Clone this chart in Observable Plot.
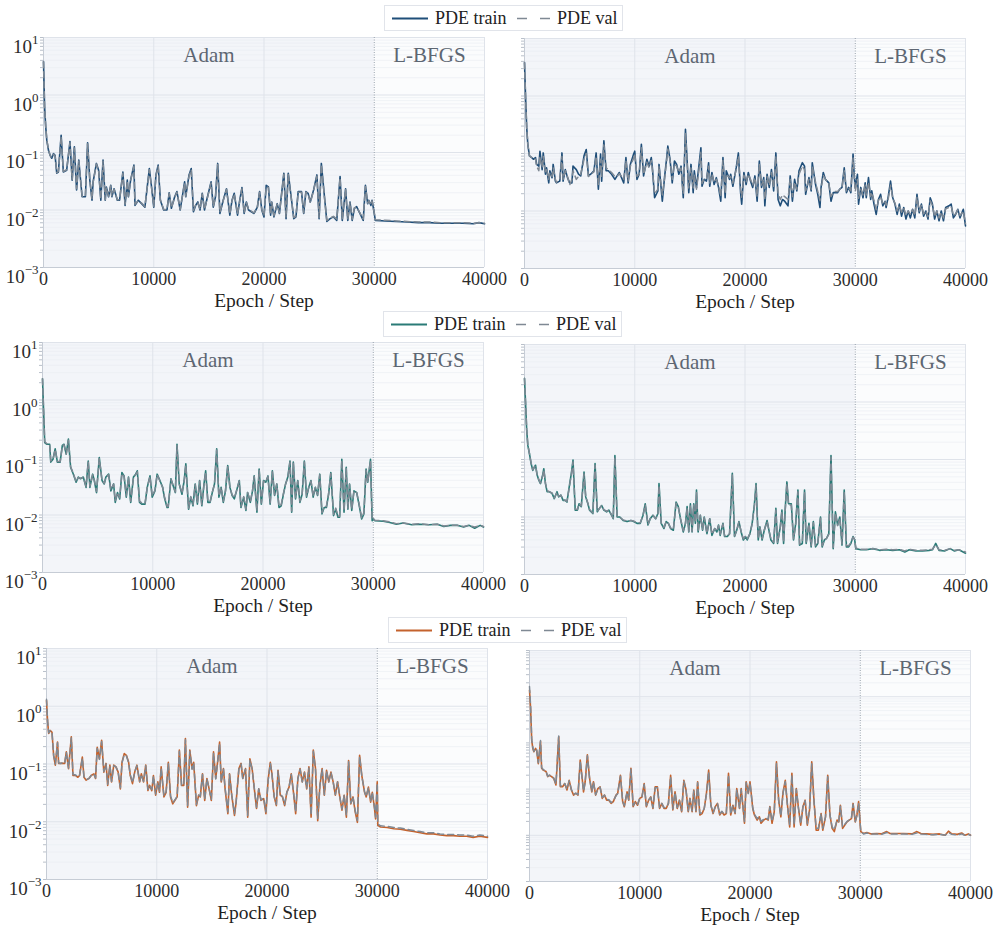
<!DOCTYPE html>
<html>
<head>
<meta charset="utf-8">
<script src="https://cdn.jsdelivr.net/npm/d3@7"></script>
<script src="https://cdn.jsdelivr.net/npm/@observablehq/plot@0.6"></script>
<style>
  html, body { margin: 0; padding: 0; background: #ffffff; }
  body { font-family: "Liberation Serif", "Times New Roman", serif; }
  #fig { position: relative; width: 999px; height: 929px; overflow: hidden; }
  .panel { position: absolute; }
  .legend {
    position: absolute; box-sizing: border-box; height: 26px; width: 239px;
    border: 1px solid #e1e4ea; background: #ffffff; z-index: 5;
    font-size: 18px; color: #222222;
  }
  .legend svg { position: absolute; top: 0; }
  .legend span { position: absolute; top: 0; line-height: 25px; white-space: nowrap; }
</style>
</head>
<body>
<div id="fig"></div>
<script>
// Training curves: PDE loss per epoch, Adam for the first 30000 steps, then L-BFGS.
// Loss values are stored as powers of ten (log10 of the loss).

const xTicks = [0, 10000, 20000, 30000, 40000];
const xLabel = "Epoch / Step";
const legendLabels = ["PDE train", "PDE val"];
const rowColors = ["#1f4e79", "#2a7b77", "#c4622d"];
const valColor = "#7f8994";
const phases = [
  { name: "Adam", start: 0, end: 30000 },
  { name: "L-BFGS", start: 30000, end: 40000 }
];

// Row 1, left
const epochs1 = [0,100,200,300,450,600,750,900,1050,1200,1350,1600,1800,2100,2400,2600,2800,3000,3200,3500,3800,4000,4200,4400,4500,4800,5000,5200,5400,5600,5700,5900,6100,6200,6400,6700,6900,7200,7400,7600,7700,7900,8200,8300,8600,8900,9200,9600,9800,10000,10200,10400,10600,10900,11200,11400,11600,11900,12100,12400,12800,12900,13200,13400,13600,13800,14000,14200,14400,14600,14800,15200,15400,15600,15800,16000,16300,16600,16900,17100,17300,17600,17800,18000,18200,18400,18600,19100,19400,19600,19800,20000,20200,20400,20600,20700,20900,21200,21400,21600,21800,22000,22200,22500,22700,22900,23100,23400,23600,23800,24000,24200,24500,24800,25000,25200,25500,25700,26000,26300,26600,26900,27100,27400,27600,27800,28000,28200,28400,28700,29000,29200,29400,29500,29700,29800,30000,30100,31000,32000,33000,34000,35000,36000,37000,38000,39000,39500,40000];
const train1 = [0.58,-0.21,-0.55,-0.79,-0.96,-1.05,-1.10,-1.02,-1.05,-1.36,-1.34,-0.70,-1.34,-1.31,-0.81,-1.48,-0.90,-1.65,-1.13,-1.77,-1.77,-0.83,-1.48,-1.83,-1.51,-1.19,-1.31,-1.83,-1.13,-1.83,-1.60,-1.77,-1.57,-1.77,-1.63,-1.83,-1.83,-1.34,-1.92,-1.48,-1.77,-1.48,-1.22,-1.92,-1.83,-1.89,-1.95,-1.28,-1.60,-1.95,-1.39,-1.22,-1.83,-2.00,-2.00,-1.70,-1.97,-1.77,-1.68,-2.00,-1.51,-1.77,-1.39,-1.28,-2.03,-1.92,-1.86,-2.00,-1.71,-2.00,-1.83,-1.51,-1.95,-1.77,-1.19,-2.06,-1.83,-1.63,-2.09,-1.83,-1.71,-2.09,-1.83,-1.61,-2.06,-1.86,-2.00,-2.06,-1.95,-1.68,-2.00,-2.12,-1.57,-1.60,-2.09,-1.86,-2.12,-1.89,-2.06,-1.71,-1.36,-2.15,-1.36,-1.83,-2.15,-2.12,-1.68,-1.68,-2.06,-1.68,-1.71,-1.86,-1.65,-1.39,-2.15,-1.19,-1.80,-2.20,-2.15,-2.12,-2.18,-1.42,-2.18,-1.63,-2.18,-1.86,-2.18,-1.97,-1.94,-2.06,-2.18,-1.57,-1.89,-1.83,-1.92,-1.83,-2.06,-2.18,-2.19,-2.20,-2.21,-2.22,-2.22,-2.23,-2.23,-2.23,-2.24,-2.22,-2.24];
const val1 = [0.58,-0.20,-0.53,-0.78,-0.95,-1.05,-1.09,-1.03,-1.06,-1.35,-1.33,-0.72,-1.33,-1.30,-0.83,-1.47,-0.92,-1.63,-1.15,-1.76,-1.76,-0.85,-1.47,-1.81,-1.52,-1.20,-1.32,-1.81,-1.15,-1.82,-1.61,-1.76,-1.58,-1.76,-1.64,-1.82,-1.82,-1.36,-1.90,-1.49,-1.76,-1.49,-1.24,-1.90,-1.84,-1.88,-1.94,-1.30,-1.61,-1.94,-1.40,-1.24,-1.82,-1.99,-1.99,-1.71,-1.96,-1.78,-1.69,-1.99,-1.53,-1.76,-1.41,-1.30,-2.01,-1.91,-1.87,-1.99,-1.72,-1.99,-1.84,-1.53,-1.94,-1.78,-1.21,-2.04,-1.84,-1.64,-2.07,-1.84,-1.72,-2.07,-1.84,-1.63,-2.05,-1.87,-1.99,-2.05,-1.94,-1.69,-1.99,-2.10,-1.59,-1.61,-2.08,-1.87,-2.10,-1.90,-2.05,-1.72,-1.38,-2.13,-1.38,-1.84,-2.13,-2.11,-1.69,-1.69,-2.05,-1.69,-1.72,-1.87,-1.66,-1.41,-2.13,-1.21,-1.81,-2.18,-2.14,-2.11,-2.16,-1.44,-2.16,-1.64,-2.16,-1.87,-2.16,-1.96,-1.95,-2.05,-2.16,-1.59,-1.88,-1.84,-1.91,-1.84,-2.05,-2.17,-2.18,-2.19,-2.20,-2.21,-2.21,-2.22,-2.22,-2.22,-2.23,-2.22,-2.23];

// Row 1, right
const epochs2 = [0,100,200,300,450,650,800,1000,1100,1300,1400,1600,1700,1900,2000,2200,2300,2500,2600,2800,2900,3200,3400,3500,3700,3900,4100,4300,4400,4700,4900,5100,5400,5600,5800,6000,6300,6500,6700,6900,7000,7200,7400,7600,7900,8200,8400,8600,8800,9000,9200,9400,9600,9900,10000,10200,10400,10600,10800,11100,11300,11500,11600,11800,12100,12200,12500,12700,12900,13000,13200,13400,13600,13800,14000,14200,14400,14600,14800,14900,15100,15300,15400,15600,15800,16000,16100,16300,16500,16700,16800,17000,17200,17400,17600,17800,18000,18200,18300,18600,18700,18900,19200,19400,19600,19700,19900,20100,20300,20500,20700,20900,21100,21300,21500,21700,21800,22000,22200,22400,22600,22800,23000,23200,23400,23600,23900,24100,24300,24500,24700,24900,25200,25400,25500,25800,26000,26100,26400,26600,26800,26900,27100,27300,27600,27800,28000,28200,28400,28600,28800,29000,29200,29400,29600,29800,29900,30000,30200,30300,30500,30700,30900,31000,31200,31400,31500,31700,31900,32100,32300,32500,32700,32800,33000,33200,33400,33600,33800,34000,34200,34400,34600,34800,35000,35200,35400,35600,35800,36000,36200,36400,36600,36800,37000,37200,37400,37600,37800,38000,38200,38500,38700,38900,39100,39300,39500,39800,40000];
const train2 = [0.58,-0.03,-0.55,-0.84,-1.04,-1.07,-1.10,-1.07,-1.19,-1.22,-0.96,-1.28,-0.99,-1.36,-1.25,-1.51,-1.30,-1.42,-1.19,-1.48,-1.51,-1.48,-0.99,-1.48,-1.28,-1.42,-1.51,-1.51,-1.22,-1.28,-1.36,-1.39,-1.04,-0.93,-1.39,-1.36,-1.30,-0.99,-1.62,-1.01,-1.48,-0.78,-1.30,-1.30,-1.36,-1.45,-1.39,-1.33,-1.42,-1.51,-1.07,-1.51,-1.19,-1.01,-0.96,-1.45,-1.36,-0.84,-1.39,-1.10,-1.22,-1.07,-1.25,-1.77,-1.65,-1.19,-1.83,-1.42,-1.07,-0.87,-1.10,-1.51,-1.13,-1.19,-1.36,-1.22,-1.77,-0.58,-1.30,-1.68,-1.19,-1.68,-1.30,-1.59,-1.25,-0.90,-1.57,-1.45,-1.48,-1.16,-1.57,-1.33,-1.54,-1.42,-1.59,-1.83,-1.07,-1.77,-1.30,-1.45,-1.36,-1.57,-1.25,-0.99,-1.68,-1.88,-1.33,-1.54,-1.33,-1.48,-1.59,-1.39,-1.83,-1.13,-1.59,-1.42,-1.91,-1.36,-1.59,-1.28,-1.65,-0.99,-1.80,-1.91,-1.80,-1.83,-1.91,-1.39,-1.83,-1.45,-1.65,-1.30,-1.16,-1.22,-1.71,-1.42,-1.65,-1.16,-1.54,-1.71,-1.94,-1.59,-1.33,-1.45,-1.51,-1.83,-1.68,-1.68,-1.68,-1.62,-1.59,-1.25,-1.68,-1.59,-1.68,-1.01,-1.36,-1.59,-1.36,-1.88,-1.59,-1.77,-1.51,-1.77,-1.42,-1.80,-1.65,-1.88,-2.06,-1.80,-1.71,-1.91,-1.83,-1.94,-1.74,-1.48,-1.77,-1.88,-2.06,-1.88,-2.09,-1.94,-2.14,-2.00,-2.12,-1.97,-2.12,-1.71,-2.03,-1.88,-2.09,-2.00,-2.14,-1.77,-1.88,-2.14,-2.00,-2.17,-2.00,-2.17,-1.94,-1.91,-1.88,-2.12,-2.06,-1.97,-2.12,-1.97,-2.26];
const val2 = [0.58,-0.03,-0.55,-0.84,-1.04,-1.07,-1.10,-1.10,-1.22,-1.30,-1.05,-1.25,-1.05,-1.33,-1.28,-1.45,-1.33,-1.40,-1.25,-1.45,-1.50,-1.45,-1.05,-1.45,-1.30,-1.40,-1.55,-1.45,-1.30,-1.45,-1.40,-1.36,-1.10,-1.00,-1.40,-1.36,-1.32,-1.05,-1.55,-1.10,-1.40,-0.85,-1.25,-1.28,-1.33,-1.40,-1.40,-1.35,-1.40,-1.45,-1.12,-1.48,-1.22,-1.08,-1.00,-1.40,-1.36,-0.90,-1.36,-1.15,-1.25,-1.12,-1.28,-1.70,-1.62,-1.22,-1.72,-1.45,-1.12,-0.92,-1.12,-1.45,-1.18,-1.22,-1.33,-1.25,-1.70,-0.65,-1.33,-1.60,-1.25,-1.60,-1.36,-1.62,-1.32,-0.98,-1.52,-1.45,-1.45,-1.22,-1.52,-1.36,-1.50,-1.45,-1.56,-1.75,-1.12,-1.70,-1.36,-1.42,-1.40,-1.52,-1.28,-1.05,-1.62,-1.76,-1.38,-1.50,-1.36,-1.45,-1.55,-1.42,-1.75,-1.18,-1.55,-1.45,-1.80,-1.40,-1.55,-1.33,-1.60,-1.05,-1.70,-1.80,-1.72,-1.75,-1.80,-1.45,-1.75,-1.50,-1.62,-1.36,-1.22,-1.28,-1.65,-1.45,-1.62,-1.22,-1.50,-1.66,-1.82,-1.62,-1.38,-1.45,-1.52,-1.75,-1.68,-1.66,-1.66,-1.62,-1.60,-1.30,-1.65,-1.60,-1.65,-1.08,-1.40,-1.66,-1.45,-1.78,-1.62,-1.72,-1.55,-1.72,-1.50,-1.75,-1.68,-1.82,-1.98,-1.82,-1.75,-1.88,-1.84,-1.90,-1.78,-1.55,-1.78,-1.86,-2.00,-1.90,-2.02,-1.95,-2.08,-2.00,-2.06,-1.98,-2.08,-1.76,-2.00,-1.90,-2.05,-2.00,-2.10,-1.82,-1.90,-2.10,-2.00,-2.12,-2.02,-2.12,-1.96,-1.94,-1.92,-2.08,-2.05,-1.98,-2.08,-2.00,-2.22];

// Row 2, left
const epochs3 = [0,100,200,400,650,750,950,1150,1350,1600,1800,1950,2150,2350,2550,2800,3050,3250,3450,3700,3950,4150,4300,4550,4700,4900,5150,5400,5600,5750,6000,6200,6450,6600,6800,7000,7200,7400,7600,7800,8000,8250,8450,8600,8800,9000,9300,9500,9750,9950,10200,10400,10650,10900,11050,11300,11400,11650,11800,12050,12200,12400,12650,12850,13000,13250,13450,13650,13850,14050,14250,14450,14650,14800,15000,15200,15400,15600,15800,16000,16200,16400,16600,16800,17000,17200,17400,17600,17850,18000,18250,18450,18600,18850,19050,19200,19450,19650,19850,20050,20250,20450,20650,20850,21050,21250,21450,21650,21850,22050,22250,22450,22600,22750,22950,23150,23350,23550,23750,23950,24150,24350,24550,24750,24950,25150,25350,25550,25750,25950,26150,26400,26600,26800,26950,27150,27350,27550,27700,27850,28050,28250,28500,28700,28950,29150,29350,29500,29750,29900,30000,30150,30900,31500,32100,32700,33500,34200,35100,35800,36400,37000,37600,38200,38700,39200,39700,40000];
const train3 = [0.37,-0.19,-0.74,-0.77,-0.77,-1.08,-1.03,-0.85,-1.08,-1.08,-0.79,-0.77,-0.94,-0.68,-1.17,-1.29,-1.43,-1.34,-1.37,-1.34,-1.52,-1.06,-1.52,-1.29,-1.40,-1.61,-1.00,-1.40,-1.46,-1.34,-1.29,-1.58,-1.46,-1.78,-1.61,-1.72,-1.26,-1.32,-1.69,-1.34,-1.78,-1.34,-1.29,-1.23,-1.78,-1.81,-1.81,-1.52,-1.32,-1.69,-1.58,-1.29,-1.40,-1.52,-1.69,-1.87,-1.87,-1.37,-1.46,-1.61,-0.77,-1.46,-1.64,-1.40,-1.11,-1.90,-1.69,-1.84,-1.46,-1.81,-1.40,-1.84,-1.46,-1.23,-1.78,-1.78,-1.61,-1.46,-0.85,-1.69,-1.52,-1.78,-1.58,-1.14,-1.52,-1.66,-1.72,-1.58,-1.40,-1.87,-1.69,-1.92,-1.61,-1.78,-1.58,-1.32,-1.95,-1.20,-1.81,-1.40,-1.43,-1.32,-1.81,-1.23,-1.66,-1.46,-1.87,-1.84,-1.64,-1.46,-1.34,-1.06,-1.95,-1.08,-1.72,-1.40,-1.78,-1.64,-1.06,-1.69,-1.52,-1.40,-1.69,-1.52,-1.66,-1.29,-1.98,-1.87,-1.87,-1.64,-1.26,-2.01,-1.90,-2.04,-2.04,-1.03,-1.95,-1.17,-1.90,-1.46,-1.92,-1.58,-1.61,-1.81,-2.07,-1.98,-1.20,-1.43,-1.03,-2.10,-2.07,-2.10,-2.11,-2.13,-2.16,-2.14,-2.17,-2.16,-2.17,-2.16,-2.20,-2.18,-2.18,-2.21,-2.18,-2.23,-2.18,-2.21];
const val3 = [0.37,-0.18,-0.72,-0.76,-0.77,-1.06,-1.03,-0.86,-1.07,-1.07,-0.80,-0.78,-0.94,-0.70,-1.16,-1.28,-1.42,-1.35,-1.36,-1.35,-1.50,-1.08,-1.50,-1.30,-1.40,-1.59,-1.02,-1.40,-1.45,-1.35,-1.30,-1.56,-1.46,-1.75,-1.61,-1.70,-1.28,-1.33,-1.67,-1.35,-1.76,-1.35,-1.30,-1.25,-1.76,-1.79,-1.80,-1.52,-1.33,-1.67,-1.57,-1.30,-1.41,-1.52,-1.67,-1.85,-1.85,-1.38,-1.46,-1.60,-0.79,-1.46,-1.62,-1.41,-1.13,-1.88,-1.68,-1.82,-1.47,-1.79,-1.41,-1.82,-1.47,-1.25,-1.76,-1.77,-1.60,-1.47,-0.87,-1.67,-1.52,-1.76,-1.57,-1.16,-1.52,-1.65,-1.70,-1.58,-1.41,-1.85,-1.68,-1.90,-1.61,-1.76,-1.58,-1.33,-1.93,-1.22,-1.79,-1.41,-1.43,-1.33,-1.79,-1.25,-1.65,-1.46,-1.85,-1.82,-1.63,-1.46,-1.35,-1.08,-1.93,-1.10,-1.70,-1.41,-1.76,-1.63,-1.08,-1.67,-1.52,-1.41,-1.67,-1.52,-1.65,-1.30,-1.96,-1.85,-1.85,-1.63,-1.28,-1.99,-1.88,-2.02,-2.02,-1.05,-1.93,-1.19,-1.88,-1.47,-1.90,-1.58,-1.61,-1.79,-2.05,-1.96,-1.22,-1.43,-1.05,-2.08,-2.06,-2.09,-2.10,-2.12,-2.15,-2.14,-2.16,-2.15,-2.17,-2.16,-2.19,-2.18,-2.18,-2.20,-2.18,-2.21,-2.18,-2.20];

// Row 2, right
const epochs4 = [0,100,200,300,450,600,750,900,1000,1150,1300,1450,1650,1750,1900,2050,2250,2500,2700,2950,3100,3300,3500,3700,3850,4100,4250,4400,4600,4800,4950,5150,5400,5550,5750,5900,6200,6400,6600,6800,7000,7200,7450,7650,7900,8050,8200,8400,8650,8950,9300,9650,9900,10200,10500,10750,10950,11200,11400,11650,11900,12100,12200,12400,12650,12850,13050,13250,13500,13750,13950,14150,14400,14600,14750,14900,15050,15200,15350,15500,15600,15750,15950,16150,16300,16550,16800,17000,17250,17450,17600,17750,18000,18150,18400,18600,18850,19050,19250,19450,19650,19850,20050,20200,20450,20650,20850,21000,21200,21350,21550,21750,22000,22200,22350,22600,22800,22950,23200,23350,23500,23650,23800,23950,24200,24400,24600,24800,24950,25200,25400,25550,25800,26000,26200,26400,26600,26850,27000,27200,27400,27600,27800,28000,28200,28400,28600,28800,29000,29200,29400,29600,29800,29950,30050,30500,31000,31600,32200,32800,33400,34000,34500,34900,35500,36100,36700,37000,37300,37600,38100,38600,39000,39400,40000];
const train4 = [0.41,-0.03,-0.49,-0.75,-0.90,-1.07,-1.19,-1.13,-1.10,-1.27,-1.36,-1.42,-1.27,-1.16,-1.42,-1.56,-1.56,-1.59,-1.68,-1.56,-1.65,-1.62,-1.71,-1.71,-1.74,-1.42,-1.24,-1.01,-1.88,-1.88,-1.77,-1.82,-1.22,-1.65,-1.77,-1.88,-1.94,-1.07,-1.91,-1.85,-1.80,-1.88,-1.91,-1.88,-1.97,-2.03,-0.93,-2.00,-2.00,-2.06,-2.08,-2.06,-2.08,-2.11,-2.11,-1.97,-1.77,-2.14,-2.03,-1.97,-2.03,-1.94,-1.42,-2.11,-2.20,-2.08,-2.11,-2.20,-2.23,-1.74,-1.82,-2.03,-2.26,-2.11,-1.82,-2.26,-1.77,-2.26,-1.77,-2.11,-1.53,-2.26,-1.97,-2.23,-2.00,-2.29,-2.03,-2.32,-2.20,-2.26,-2.14,-2.32,-2.11,-2.34,-2.34,-2.29,-1.24,-2.34,-2.23,-2.08,-2.26,-2.40,-2.34,-2.40,-2.29,-2.11,-1.79,-1.42,-2.40,-2.17,-2.40,-2.23,-2.06,-2.26,-2.40,-2.46,-1.85,-2.46,-2.17,-1.88,-2.46,-1.85,-1.39,-1.77,-1.77,-2.40,-2.11,-1.53,-2.49,-2.46,-1.53,-2.46,-2.11,-2.52,-2.08,-2.52,-2.46,-2.00,-2.52,-2.40,-2.37,-2.29,-0.93,-2.55,-1.91,-2.14,-2.00,-2.49,-1.53,-2.52,-2.52,-2.46,-2.34,-2.40,-2.55,-2.57,-2.57,-2.55,-2.58,-2.57,-2.58,-2.57,-2.61,-2.57,-2.59,-2.59,-2.58,-2.57,-2.46,-2.58,-2.59,-2.55,-2.59,-2.57,-2.63];
const val4 = [0.41,-0.03,-0.48,-0.74,-0.90,-1.06,-1.18,-1.13,-1.11,-1.27,-1.35,-1.41,-1.28,-1.18,-1.41,-1.54,-1.56,-1.58,-1.67,-1.57,-1.64,-1.62,-1.70,-1.71,-1.73,-1.44,-1.26,-1.04,-1.86,-1.87,-1.77,-1.81,-1.25,-1.64,-1.76,-1.87,-1.93,-1.10,-1.90,-1.85,-1.80,-1.87,-1.90,-1.88,-1.96,-2.02,-0.96,-1.99,-2.01,-2.05,-2.07,-2.06,-2.07,-2.10,-2.10,-1.97,-1.79,-2.13,-2.03,-1.97,-2.03,-1.95,-1.45,-2.10,-2.18,-2.08,-2.11,-2.19,-2.22,-1.76,-1.83,-2.03,-2.24,-2.11,-1.84,-2.25,-1.79,-2.25,-1.79,-2.10,-1.56,-2.25,-1.97,-2.22,-2.01,-2.28,-2.03,-2.30,-2.20,-2.25,-2.15,-2.30,-2.12,-2.33,-2.33,-2.29,-1.27,-2.33,-2.23,-2.09,-2.25,-2.38,-2.33,-2.38,-2.29,-2.12,-1.81,-1.45,-2.38,-2.18,-2.38,-2.23,-2.08,-2.26,-2.38,-2.44,-1.88,-2.44,-2.18,-1.90,-2.44,-1.88,-1.42,-1.79,-1.79,-2.38,-2.12,-1.56,-2.47,-2.44,-1.56,-2.44,-2.12,-2.50,-2.10,-2.50,-2.45,-2.02,-2.50,-2.40,-2.37,-2.30,-0.96,-2.53,-1.93,-2.15,-2.02,-2.47,-1.56,-2.50,-2.50,-2.45,-2.35,-2.39,-2.54,-2.56,-2.56,-2.55,-2.57,-2.56,-2.57,-2.56,-2.59,-2.56,-2.58,-2.58,-2.57,-2.56,-2.48,-2.57,-2.58,-2.55,-2.58,-2.57,-2.61];

// Row 3, left
const epochs5 = [0,100,200,350,500,650,800,1000,1100,1250,1400,1650,1800,2000,2250,2400,2650,2850,3000,3250,3400,3600,3850,4050,4300,4450,4600,4800,5000,5200,5400,5550,5750,5900,6100,6300,6500,6700,6850,7050,7250,7450,7600,7800,8000,8200,8450,8600,8800,9000,9200,9350,9550,9700,9900,10100,10250,10400,10650,10850,11050,11250,11450,11650,11850,12050,12250,12450,12600,12800,13000,13200,13350,13600,13800,13950,14150,14350,14550,14750,14950,15150,15350,15550,15700,15850,16050,16200,16450,16600,16800,17050,17200,17450,17650,17800,18050,18250,18450,18650,18850,19050,19250,19450,19700,19900,20100,20300,20450,20650,20850,21000,21200,21400,21600,21800,22000,22200,22400,22600,22800,23000,23200,23400,23600,23800,24000,24200,24400,24600,24800,25000,25200,25400,25600,25800,26000,26200,26400,26600,26800,27000,27200,27400,27600,27800,28000,28200,28400,28600,28850,29000,29200,29400,29550,29750,29850,30000,30050,30300,30900,31500,32100,32700,33300,33900,34500,35100,35700,36300,36900,37500,38100,38700,39300,40000];
const train5 = [0.10,-0.27,-0.47,-0.42,-0.45,-0.86,-1.02,-0.62,-0.99,-0.99,-0.99,-0.99,-0.79,-1.08,-0.53,-1.20,-1.20,-1.23,-1.20,-0.88,-1.23,-1.28,-1.25,-1.20,-1.17,-1.25,-0.71,-0.91,-0.59,-1.14,-0.99,-1.37,-1.02,-1.31,-1.02,-1.05,-1.14,-1.43,-0.97,-0.82,-0.85,-0.97,-1.20,-1.34,-1.14,-1.02,-1.31,-1.17,-1.31,-1.02,-1.46,-1.37,-1.46,-1.20,-1.54,-1.31,-1.49,-1.05,-1.57,-1.49,-0.97,-1.57,-1.69,-1.63,-1.57,-0.76,-1.37,-1.37,-0.56,-1.75,-0.76,-1.08,-0.97,-1.72,-1.54,-1.57,-1.17,-1.63,-1.25,-1.43,-1.63,-0.79,-1.25,-0.91,-0.62,-1.31,-1.08,-1.43,-1.86,-1.17,-1.54,-1.89,-1.66,-1.08,-0.99,-1.25,-1.08,-1.92,-0.91,-1.08,-1.43,-1.77,-1.43,-1.63,-1.60,-1.86,-1.28,-0.97,-1.17,-1.57,-1.72,-1.11,-1.54,-1.57,-1.72,-1.49,-1.40,-1.17,-1.49,-1.86,-1.25,-1.08,-1.31,-1.14,-1.43,-1.05,-1.92,-0.76,-1.08,-1.98,-1.37,-1.08,-1.54,-1.11,-1.31,-1.14,-1.31,-1.54,-1.31,-1.57,-1.80,-1.54,-1.92,-0.94,-1.69,-1.57,-1.83,-2.01,-0.85,-1.20,-1.49,-1.57,-1.40,-1.66,-1.49,-1.77,-1.95,-1.31,-2.06,-2.09,-2.10,-2.12,-2.13,-2.15,-2.17,-2.19,-2.21,-2.21,-2.23,-2.24,-2.24,-2.25,-2.25,-2.27,-2.25,-2.27];
const val5 = [0.12,-0.25,-0.46,-0.42,-0.46,-0.85,-1.00,-0.63,-0.98,-0.99,-0.98,-0.99,-0.80,-1.07,-0.55,-1.18,-1.19,-1.22,-1.19,-0.90,-1.22,-1.27,-1.25,-1.20,-1.17,-1.24,-0.73,-0.92,-0.61,-1.13,-1.00,-1.35,-1.03,-1.30,-1.03,-1.05,-1.14,-1.41,-0.98,-0.84,-0.86,-0.98,-1.19,-1.32,-1.14,-1.03,-1.30,-1.18,-1.30,-1.03,-1.44,-1.37,-1.44,-1.21,-1.52,-1.32,-1.47,-1.07,-1.55,-1.48,-0.99,-1.55,-1.67,-1.62,-1.56,-0.78,-1.37,-1.37,-0.58,-1.72,-0.78,-1.09,-0.98,-1.70,-1.54,-1.56,-1.18,-1.61,-1.26,-1.43,-1.61,-0.81,-1.26,-0.92,-0.64,-1.31,-1.09,-1.42,-1.83,-1.18,-1.53,-1.86,-1.65,-1.09,-1.00,-1.25,-1.09,-1.89,-0.93,-1.09,-1.42,-1.75,-1.43,-1.62,-1.59,-1.83,-1.29,-0.99,-1.18,-1.56,-1.70,-1.12,-1.53,-1.56,-1.70,-1.49,-1.40,-1.18,-1.48,-1.83,-1.26,-1.09,-1.31,-1.15,-1.42,-1.07,-1.89,-0.78,-1.09,-1.95,-1.37,-1.09,-1.53,-1.12,-1.31,-1.15,-1.31,-1.53,-1.31,-1.56,-1.78,-1.54,-1.89,-0.96,-1.68,-1.57,-1.81,-1.98,-0.87,-1.21,-1.48,-1.56,-1.41,-1.64,-1.49,-1.75,-1.92,-1.33,-2.04,-2.07,-2.08,-2.10,-2.11,-2.13,-2.15,-2.17,-2.19,-2.19,-2.21,-2.22,-2.22,-2.23,-2.23,-2.25,-2.23,-2.25];

// Row 3, right
const epochs6 = [0,100,200,300,400,550,650,800,1000,1100,1250,1500,1650,1800,2000,2200,2400,2650,2800,3000,3200,3400,3600,3800,4000,4200,4400,4600,4750,4900,5050,5250,5450,5650,5800,6000,6200,6400,6600,6800,7000,7200,7400,7600,7850,8000,8250,8450,8600,8850,9000,9200,9400,9600,9800,10000,10200,10400,10600,10800,11000,11200,11400,11600,11800,12000,12200,12400,12600,12800,13000,13200,13400,13600,13800,14000,14200,14400,14550,14750,14900,15100,15250,15450,15650,15850,16050,16250,16450,16650,16850,17050,17250,17450,17650,17850,18050,18250,18450,18650,18800,19050,19200,19350,19500,19650,19850,20000,20250,20400,20650,20850,21000,21250,21450,21650,21800,22000,22200,22400,22600,22800,23000,23200,23400,23600,23800,24000,24200,24400,24600,24800,25000,25200,25400,25600,25800,26000,26200,26450,26600,26850,27050,27250,27450,27650,27900,28050,28200,28400,28600,28800,29000,29200,29350,29550,29700,29850,30000,30050,30300,30600,31000,31500,31900,32400,32700,33300,33900,34700,35100,35500,36000,36600,37200,37700,38000,38300,38800,39200,39500,39800,40000];
const train6 = [0.14,-0.25,-0.94,-1.12,-1.19,-1.12,-1.16,-1.45,-0.97,-1.55,-1.59,-1.62,-1.73,-1.70,-1.73,-1.77,-1.91,-0.87,-1.95,-1.95,-1.88,-2.02,-1.81,-2.02,-2.13,-2.09,-2.13,-1.37,-1.70,-2.06,-1.84,-1.26,-1.77,-2.06,-1.84,-2.13,-1.99,-1.95,-2.20,-2.13,-2.24,-2.24,-2.31,-2.27,-2.13,-2.09,-1.70,-2.27,-2.38,-2.06,-2.24,-1.55,-2.38,-2.27,-2.35,-2.20,-2.17,-1.88,-2.38,-2.24,-2.17,-2.42,-1.95,-1.95,-2.42,-2.31,-2.42,-2.42,-2.31,-1.70,-2.45,-2.06,-2.42,-2.24,-2.49,-1.81,-2.02,-2.49,-2.20,-2.49,-2.02,-2.49,-1.84,-2.56,-2.53,-2.42,-2.09,-1.59,-2.35,-2.53,-2.38,-2.31,-2.56,-2.49,-2.56,-2.53,-1.66,-2.56,-2.35,-2.53,-1.99,-2.42,-1.99,-2.35,-2.74,-1.84,-2.09,-1.84,-2.42,-2.56,-2.67,-2.60,-2.74,-2.67,-2.64,-2.67,-2.38,-2.74,-2.49,-1.41,-2.24,-2.60,-2.06,-1.81,-2.35,-2.82,-1.66,-2.82,-1.99,-2.42,-2.78,-2.38,-2.24,-2.78,-2.45,-1.41,-2.24,-2.89,-2.89,-2.53,-2.89,-2.60,-1.70,-2.56,-2.85,-2.92,-2.67,-2.71,-2.35,-2.85,-2.78,-2.71,-2.67,-2.64,-2.31,-2.71,-2.56,-2.27,-2.78,-2.92,-2.96,-2.94,-2.97,-2.96,-2.97,-2.92,-2.96,-2.96,-2.96,-2.97,-2.92,-2.96,-2.97,-2.98,-2.97,-3.00,-2.91,-2.97,-2.98,-2.95,-3.00,-2.97,-3.00];
const val6 = [0.22,-0.20,-0.92,-1.10,-1.18,-1.12,-1.15,-1.43,-0.95,-1.53,-1.58,-1.61,-1.72,-1.70,-1.72,-1.76,-1.89,-0.85,-1.93,-1.94,-1.88,-2.00,-1.82,-2.01,-2.11,-2.09,-2.12,-1.39,-1.71,-2.04,-1.85,-1.28,-1.77,-2.05,-1.85,-2.12,-1.99,-1.96,-2.18,-2.13,-2.22,-2.23,-2.29,-2.26,-2.14,-2.10,-1.72,-2.26,-2.36,-2.07,-2.23,-1.57,-2.36,-2.27,-2.33,-2.20,-2.17,-1.90,-2.36,-2.24,-2.18,-2.40,-1.97,-1.97,-2.40,-2.31,-2.40,-2.40,-2.31,-1.73,-2.43,-2.07,-2.40,-2.25,-2.47,-1.83,-2.03,-2.47,-2.21,-2.47,-2.04,-2.47,-1.86,-2.53,-2.51,-2.42,-2.11,-1.62,-2.35,-2.51,-2.38,-2.32,-2.54,-2.48,-2.54,-2.52,-1.69,-2.54,-2.36,-2.51,-2.01,-2.41,-2.01,-2.36,-2.70,-1.86,-2.10,-1.86,-2.41,-2.54,-2.64,-2.59,-2.70,-2.65,-2.63,-2.65,-2.39,-2.70,-2.49,-1.45,-2.25,-2.58,-2.08,-1.84,-2.36,-2.78,-1.69,-2.78,-2.01,-2.42,-2.75,-2.39,-2.25,-2.75,-2.45,-1.45,-2.25,-2.85,-2.85,-2.53,-2.85,-2.60,-1.73,-2.56,-2.82,-2.88,-2.67,-2.70,-2.37,-2.82,-2.76,-2.70,-2.67,-2.64,-2.33,-2.70,-2.57,-2.30,-2.76,-2.92,-2.97,-2.95,-2.97,-2.97,-2.98,-2.94,-2.97,-2.97,-2.97,-2.98,-2.95,-2.97,-2.98,-2.99,-2.98,-3.00,-2.94,-2.98,-2.99,-2.97,-3.00,-2.98,-3.00];

// y ranges (powers of ten) shown by each panel
const yRange12 = [-3, 1];
const yRange6 = [-4, 1];

const panels = [
  { epochs: epochs1, train: train1, val: val1, row: 0, left: 0,   top: 0,   width: 500, height: 310, margin: [37, 16, 43, 43], yr: yRange12, labels: true },
  { epochs: epochs2, train: train2, val: val2, row: 0, left: 500, top: 0,   width: 499, height: 310, margin: [38, 34, 42, 24], yr: yRange12, labels: false },
  { epochs: epochs3, train: train3, val: val3, row: 1, left: 0,   top: 310, width: 500, height: 305, margin: [32, 17, 43, 42], yr: yRange12, labels: true },
  { epochs: epochs4, train: train4, val: val4, row: 1, left: 500, top: 310, width: 499, height: 305, margin: [34, 34, 41, 24], yr: yRange12, labels: false },
  { epochs: epochs5, train: train5, val: val5, row: 2, left: 0,   top: 615, width: 500, height: 314, margin: [33, 13, 50, 46], yr: yRange12, labels: true },
  { epochs: epochs6, train: train6, val: val6, row: 2, left: 500, top: 615, width: 499, height: 314, margin: [35, 29, 48, 29], yr: yRange6, labels: false }
];

const legends = [
  { row: 0, left: 384, top: 5 },
  { row: 1, left: 383, top: 311 },
  { row: 2, left: 388, top: 617 }
];

const fig = d3.select("#fig");
const serif = '"Liberation Serif", "Times New Roman", serif';

function drawPanel(p) {
  const n = Math.min(p.epochs.length, p.train.length, p.val.length);
  const rows = d3.range(n).map(i => ({ epoch: p.epochs[i], train: 10 ** p.train[i], val: 10 ** p.val[i] }));
  const decades = d3.range(p.yr[0], p.yr[1] + 1).map(k => 10 ** k);
  const minor = [];
  for (let k = p.yr[0]; k < p.yr[1]; k++) for (let m = 2; m <= 9; m++) minor.push(m * 10 ** k);
  const color = rowColors[p.row];

  const marks = [
    Plot.rect([phases[0]], { x1: "start", x2: "end", fill: "#f3f5f9" }),
    Plot.rect([phases[1]], { x1: "start", x2: "end", fill: "#fbfcfd" }),
    Plot.ruleY(minor, { stroke: "#e9ecf1", strokeWidth: 0.6 }),
    Plot.ruleY(decades, { stroke: "#dfe3ea", strokeWidth: 1 }),
    Plot.ruleX(xTicks.filter(t => t !== phases[1].start), { stroke: "#dfe3ea", strokeWidth: 1 }),
    Plot.ruleX([phases[1].start], { stroke: "#98a1ac", strokeWidth: 1, strokeDasharray: "1,1.5" }),
    Plot.ruleX([xTicks[0]], { stroke: "#c6ccd5", strokeWidth: 1 }),
    Plot.ruleY([decades[0]], { stroke: "#c6ccd5", strokeWidth: 1 }),
    Plot.lineY(rows, { x: "epoch", y: "train", stroke: color, strokeWidth: 1.6 }),
    Plot.lineY(rows, { x: "epoch", y: "val", stroke: valColor, strokeWidth: 1.5, strokeDasharray: "6,4" }),
    Plot.text(phases, { x: d => (d.start + d.end) / 2, text: "name", frameAnchor: "top", dy: 18,
      lineAnchor: "middle", textAnchor: "middle", fontSize: 21, fill: "#5d6672" }),
    Plot.text([xLabel], { text: d => d, frameAnchor: "bottom", dy: 33.5, lineAnchor: "middle",
      textAnchor: "middle", fontSize: 19.5, fill: "#1f1f1f" }),
    Plot.axisX({ ticks: xTicks, tickSize: 0, tickPadding: 5, tickFormat: d => String(d),
      fontSize: 18, fill: "#2b2b2b", label: null }),
    Plot.axisY({ ticks: minor.concat(decades), tickSize: 3, tickPadding: 2, tickFormat: () => "",
      stroke: "#b9c0ca", label: null })
  ];
  if (p.labels) {
    marks.push(Plot.axisY({ ticks: decades, tickSize: 0, tickPadding: 5,
      tickFormat: v => `10^${Math.round(Math.log10(v))}`, fontSize: 19, fill: "#2b2b2b", label: null }));
  }

  const svg = Plot.plot({
    width: p.width, height: p.height,
    marginTop: p.margin[0], marginRight: p.margin[1], marginBottom: p.margin[2], marginLeft: p.margin[3],
    style: { background: "transparent", overflow: "visible", fontFamily: serif, fontSize: "19px" },
    x: { domain: [xTicks[0], xTicks[xTicks.length - 1]], label: null },
    y: { type: "log", domain: [decades[0], decades[decades.length - 1]], label: null },
    marks
  });

  // Decade labels as 10 with a raised exponent
  d3.select(svg).selectAll("text").each(function () {
    const m = /^10\^(-?\d+)$/.exec(this.textContent);
    if (!m) return;
    const t = d3.select(this);
    t.text("").attr("dy", "0.52em");
    t.append("tspan").text("10");
    t.append("tspan").attr("dy", -9).attr("font-size", "13px").text(m[1].replace("-", "\u2212"));
  });

  fig.append("div").attr("class", "panel")
    .style("left", p.left + "px").style("top", p.top + "px")
    .node().appendChild(svg);
}

function drawLegend(l) {
  const box = fig.append("div").attr("class", "legend")
    .style("left", l.left + "px").style("top", l.top + "px");
  box.append("svg").attr("width", 40).attr("height", 24).style("left", "7px")
    .append("line").attr("x1", 0).attr("x2", 36).attr("y1", 12.5).attr("y2", 12.5)
    .attr("stroke", rowColors[l.row]).attr("stroke-width", 2);
  box.append("span").style("left", "50px").text(legendLabels[0]);
  box.append("svg").attr("width", 36).attr("height", 24).style("left", "132px")
    .append("line").attr("x1", 0).attr("x2", 34).attr("y1", 12.5).attr("y2", 12.5)
    .attr("stroke", valColor).attr("stroke-width", 1.6).attr("stroke-dasharray", "10,13");
  box.append("span").style("left", "172px").text(legendLabels[1]);
}

panels.forEach(drawPanel);
legends.forEach(drawLegend);
</script>
</body>
</html>
